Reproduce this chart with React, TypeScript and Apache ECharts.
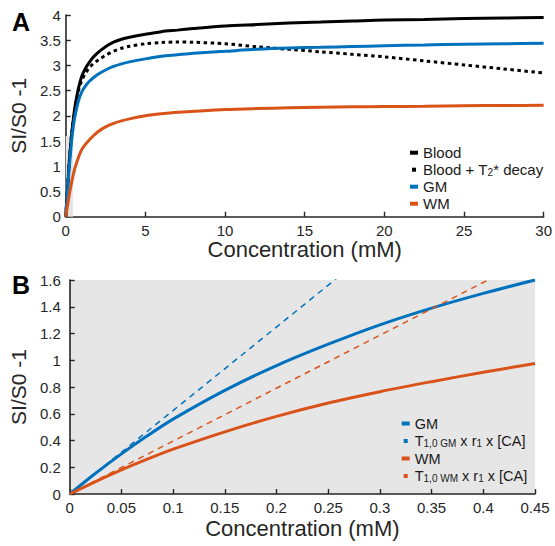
import React, { useEffect, useRef } from 'react';
import * as echarts from 'echarts';

const FONT = 'Liberation Sans, Arial, Helvetica, sans-serif';

// Panel A: concentration (mM)
const concA = [0, 0.1, 0.2, 0.3, 0.4, 0.5, 0.6, 0.8, 1, 1.25, 1.5, 1.75, 2, 2.5, 3, 3.5, 4, 5, 6, 7, 8, 10, 12, 14, 16, 18, 20, 22.5, 25, 27.5, 30];
const bloodA = [0, 0.5, 1.0, 1.4, 1.72, 2.0, 2.22, 2.55, 2.78, 2.95, 3.07, 3.17, 3.25, 3.37, 3.46, 3.52, 3.56, 3.62, 3.67, 3.7, 3.73, 3.78, 3.81, 3.84, 3.86, 3.88, 3.9, 3.91, 3.93, 3.94, 3.95];
const bloodT2A = [0, 0.5, 1.0, 1.4, 1.72, 1.98, 2.2, 2.5, 2.7, 2.85, 2.96, 3.04, 3.1, 3.2, 3.28, 3.34, 3.38, 3.43, 3.455, 3.465, 3.46, 3.43, 3.37, 3.32, 3.27, 3.22, 3.17, 3.09, 3.01, 2.93, 2.85];
const gmA = [0, 0.45, 0.9, 1.27, 1.6, 1.85, 2.03, 2.3, 2.47, 2.6, 2.69, 2.76, 2.82, 2.91, 2.98, 3.03, 3.07, 3.13, 3.18, 3.21, 3.24, 3.28, 3.32, 3.345, 3.36, 3.375, 3.39, 3.405, 3.42, 3.43, 3.44];
const wmA = [0, 0.2, 0.4, 0.57, 0.73, 0.87, 0.99, 1.18, 1.33, 1.44, 1.53, 1.61, 1.68, 1.78, 1.85, 1.9, 1.94, 2.0, 2.04, 2.07, 2.09, 2.125, 2.145, 2.16, 2.17, 2.18, 2.185, 2.19, 2.2, 2.205, 2.21];
// shaded range in panel A (= panel B extent)
const zoomRangeX = [0, 0.45];
const zoomRangeY = [0, 1.6];

// Panel B
const concB = [0, 0.025, 0.05, 0.075, 0.1, 0.15, 0.2, 0.25, 0.3, 0.35, 0.4, 0.45];
const gmB = [0, 0.155, 0.3, 0.435, 0.56, 0.775, 0.96, 1.12, 1.265, 1.39, 1.5, 1.6];
const wmB = [0, 0.093, 0.18, 0.26, 0.335, 0.465, 0.58, 0.68, 0.765, 0.84, 0.91, 0.975];
const concLin = [0, 0.45];
const gmLin = [0, 2.81];
const wmLin = [0, 1.78];

const legendA = ['Blood', 'Blood + T2* decay', 'GM', 'WM'];
const legendB = ['GM', 'T1,0 GM x r1 x [CA]', 'WM', 'T1,0 WM x r1 x [CA]'];

const BLUE = '#0072BD';
const ORANGE = '#D95319';
const AX = '#262626';

const zip = (xs: number[], ys: number[]) => xs.map((x, i) => [x, ys[i]]);

const axisBase = {
  axisLine: { show: true, onZero: false, lineStyle: { color: AX, width: 1.6 } },
  axisTick: { show: true, inside: true, length: 5, lineStyle: { color: AX, width: 1.4 } },
  splitLine: { show: false },
  nameLocation: 'middle' as const,
};

export default function App() {
  const ref = useRef<HTMLDivElement>(null);
  useEffect(() => {
    const chart = echarts.init(ref.current!, null, { renderer: 'svg' });
    const sq = 'path://M0,0h1v1h-1z';
    const richSub = {
      sub: { fontSize: 10, lineHeight: 5, verticalAlign: 'bottom', fontFamily: FONT, color: '#1a1a1a' },
    };
    const fmt: Record<string, string> = {
      'Blood + T2* decay': 'Blood + T{sub|2}* decay',
      'T1,0 GM x r1 x [CA]': 'T{sub|1,0 GM} x r{sub|1} x [CA]',
      'T1,0 WM x r1 x [CA]': 'T{sub|1,0 WM} x r{sub|1} x [CA]',
    };
    const lineA = (name: string, ys: number[], color: string, extra: any = {}) => ({
      name, type: 'line', xAxisIndex: 0, yAxisIndex: 0, z: 3,
      data: zip(concA, ys), showSymbol: false, smooth: 0.3,
      color, lineStyle: { color, width: 3, ...extra },
    });
    const option: any = {
      animation: false,
      backgroundColor: '#fff',
      textStyle: { fontFamily: FONT },
      grid: [
        { left: 62, right: 8.3, top: 15, height: 201.7, containLabel: false },
        {
          left: 67, right: 20, top: 280, height: 214, containLabel: false,
          show: true, backgroundColor: '#e6e6e6', borderWidth: 0,
        },
      ],
      xAxis: [
        {
          ...axisBase, type: 'value', gridIndex: 0, min: 0, max: 30, interval: 5,
          name: 'Concentration (mM)', nameGap: 22,
          nameTextStyle: { color: AX, fontSize: 22, fontFamily: FONT },
          axisLabel: { color: AX, fontSize: 15, margin: 6, fontFamily: FONT },
        },
        {
          ...axisBase, type: 'value', gridIndex: 1, min: 0, max: 0.45, interval: 0.05,
          name: 'Concentration (mM)', nameGap: 23,
          nameTextStyle: { color: AX, fontSize: 22, fontFamily: FONT },
          axisLabel: { color: AX, fontSize: 15, margin: 6, fontFamily: FONT },
        },
      ],
      yAxis: [
        {
          ...axisBase, type: 'value', gridIndex: 0, min: 0, max: 4, interval: 0.5,
          name: 'SI/S0 -1', nameGap: 23,
          nameTextStyle: { color: AX, fontSize: 21, fontFamily: FONT },
          axisLabel: { color: AX, fontSize: 15, margin: 5, fontFamily: FONT },
        },
        {
          ...axisBase, type: 'value', gridIndex: 1, min: 0, max: 1.6, interval: 0.2,
          name: 'SI/S0 -1', nameGap: 30,
          nameTextStyle: { color: AX, fontSize: 21, fontFamily: FONT },
          axisLabel: { color: AX, fontSize: 15, margin: 9, fontFamily: FONT },
        },
      ],
      legend: [
        {
          orient: 'vertical', left: 410, top: 145.2, padding: 0, itemWidth: 8, itemHeight: 4, itemGap: 2,
          selectedMode: false,
          data: [
            { name: legendA[0], icon: 'rect' },
            { name: legendA[1], icon: sq },
            { name: legendA[2], icon: 'rect' },
            { name: legendA[3], icon: 'rect' },
          ],
          formatter: (n: string) => fmt[n] || n,
          textStyle: { fontSize: 15, lineHeight: 15, color: '#1a1a1a', fontFamily: FONT, rich: richSub },
        },
        {
          orient: 'vertical', left: 401.7, top: 416, padding: 0, itemWidth: 8, itemHeight: 4, itemGap: 2.5,
          selectedMode: false,
          data: [
            { name: legendB[0], icon: 'rect' },
            { name: legendB[1], icon: sq },
            { name: legendB[2], icon: 'rect' },
            { name: legendB[3], icon: sq },
          ],
          formatter: (n: string) => fmt[n] || n,
          textStyle: { fontSize: 14.5, lineHeight: 15, color: '#1a1a1a', fontFamily: FONT, rich: richSub },
        },
      ],
      graphic: [
        { type: 'text', left: 12, top: 9, style: { text: 'A', font: `bold 25px ${FONT}`, fill: '#000' } },
        { type: 'text', left: 12, top: 272, style: { text: 'B', font: `bold 25px ${FONT}`, fill: '#000' } },
      ],
      series: [
        {
          name: 'range', type: 'line', xAxisIndex: 0, yAxisIndex: 0, z: 1,
          data: [[0, 0]], showSymbol: false, lineStyle: { opacity: 0 },
          markArea: {
            silent: true, itemStyle: { color: '#e3e3e3' },
            data: [[{ coord: [zoomRangeX[0], zoomRangeY[0]] }, { coord: [zoomRangeX[1], zoomRangeY[1]] }]],
          },
        },
        lineA(legendA[0], bloodA, '#000'),
        lineA(legendA[1], bloodT2A, '#000', { type: [3.5, 3.5] }),
        lineA(legendA[2], gmA, BLUE),
        lineA(legendA[3], wmA, ORANGE),
        {
          name: legendB[0], type: 'line', xAxisIndex: 1, yAxisIndex: 1, z: 3,
          data: zip(concB, gmB), showSymbol: false, smooth: 0.3,
          color: BLUE, lineStyle: { color: BLUE, width: 3 },
        },
        {
          name: legendB[1], type: 'line', xAxisIndex: 1, yAxisIndex: 1, z: 3,
          data: zip(concLin, gmLin), showSymbol: false,
          color: BLUE, lineStyle: { color: BLUE, width: 1.5, type: [6, 5] },
        },
        {
          name: legendB[2], type: 'line', xAxisIndex: 1, yAxisIndex: 1, z: 3,
          data: zip(concB, wmB), showSymbol: false, smooth: 0.3,
          color: ORANGE, lineStyle: { color: ORANGE, width: 3 },
        },
        {
          name: legendB[3], type: 'line', xAxisIndex: 1, yAxisIndex: 1, z: 3,
          data: zip(concLin, wmLin), showSymbol: false,
          color: ORANGE, lineStyle: { color: ORANGE, width: 1.5, type: [6, 5] },
        },
      ],
    };
    chart.setOption(option);
    return () => chart.dispose();
  }, []);
  return (
    <div
      ref={ref}
      style={{ position: 'fixed', left: 0, top: 0, width: 555, height: 546, background: '#fff' }}
    />
  );
}
